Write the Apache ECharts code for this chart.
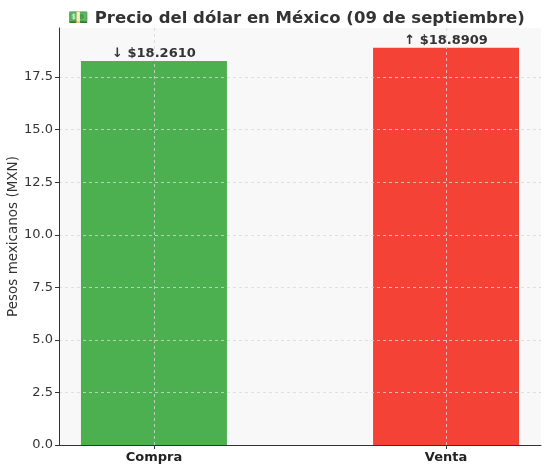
<!DOCTYPE html>
<html>
<head>
<meta charset="utf-8">
<script src="https://cdn.jsdelivr.net/npm/echarts@6/dist/echarts.min.js"></script>
<style>html,body{margin:0;padding:0;background:#fff;}#c{width:550px;height:470px;}</style>
</head>
<body>
<div id="c"></div>
<script>
const categories = ['Compra', 'Venta'];
const values = [18.2610, 18.8909];
const arrows = ['↓', '↑'];
const colors = ['#4CAF50', '#F44336'];
const yTicks = [0, 2.5, 5, 7.5, 10, 12.5, 15, 17.5];
const titleText = '💵 Precio del dólar en México (09 de septiembre)';
const yName = 'Pesos mexicanos (MXN)';

const font = 'DejaVu Sans';
const chart = echarts.init(document.getElementById('c'), null, {renderer: 'canvas'});
const idx = categories.map((_, i) => i);
const yMax = Math.max(...values) * 1.05;

chart.setOption({
  animation: false,
  backgroundColor: '#ffffff',
  title: {
    text: titleText, left: 63, top: 5,
    textStyle: {fontFamily: font, fontSize: 16.5, fontWeight: 'bold', color: '#333333'}
  },
  graphic: [{
    type: 'text', x: 13, y: 236.5, rotation: Math.PI / 2,
    style: {text: yName, align: 'center', verticalAlign: 'middle',
      font: '13.5px "DejaVu Sans"', fill: '#333333'}
  }],
  grid: {left: 59, right: 9, top: 28, bottom: 25, show: true, backgroundColor: '#f8f8f8', borderWidth: 0,
    containLabel: false, outerBoundsMode: 'none'},
  xAxis: {
    type: 'value', min: -0.325, max: 1.325, z: 3,
    axisLine: {show: true, onZero: false, lineStyle: {color: '#333333', width: 1}},
    axisTick: {show: true, customValues: idx, length: 4, lineStyle: {color: '#333333'}},
    axisLabel: {customValues: idx, formatter: v => categories[Math.round(v)] || '',
      fontFamily: font, fontSize: 13, fontWeight: 'bold', color: '#222222', margin: 6},
    splitLine: {show: true, lineStyle: {color: '#d8d8d8', type: [3, 3], width: 0.8}}
  },
  yAxis: {
    type: 'value', min: 0, max: yMax, z: 3,
    axisLine: {show: true, onZero: false, lineStyle: {color: '#333333', width: 1}},
    axisTick: {show: true, customValues: yTicks, length: 4, lineStyle: {color: '#333333'}},
    axisLabel: {customValues: yTicks, formatter: v => v.toFixed(1),
      fontFamily: font, fontSize: 13, color: '#333333', margin: 6},
    splitLine: {show: true, lineStyle: {color: '#d8d8d8', type: [3, 3], width: 0.8}}
  },
  series: [{
    type: 'bar', barWidth: 146,
    data: values.map((v, i) => ({value: [i, v], itemStyle: {color: colors[i]}})),
    label: {show: true, position: 'top', distance: 1,
      formatter: p => arrows[p.dataIndex] + ' $' + values[p.dataIndex].toFixed(4),
      fontFamily: font, fontSize: 13, fontWeight: 'bold', color: '#333333'}
  }]
});
</script>
</body>
</html>
